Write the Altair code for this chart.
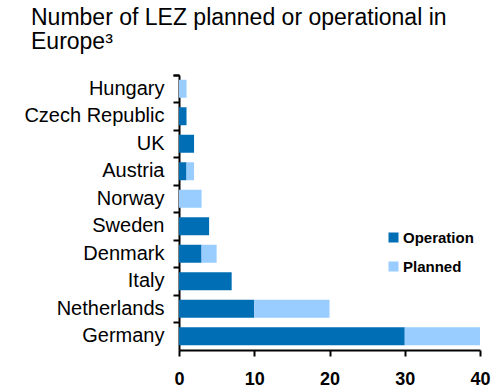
import altair as alt
import pandas as pd

countries = ["Hungary", "Czech Republic", "UK", "Austria", "Norway",
             "Sweden", "Denmark", "Italy", "Netherlands", "Germany"]
operation = [0, 1, 2, 1, 0, 4, 3, 7, 10, 30]
planned = [1, 0, 0, 1, 3, 0, 2, 0, 10, 10]
statuses = ["Operation", "Planned"]
colors = ["#006EB4", "#99CCFF"]
x_ticks = [0, 10, 20, 30, 40]

rows = []
for c, o, p in zip(countries, operation, planned):
    rows.append({"country": c, "status": "Operation", "value": o, "rank": 0})
    rows.append({"country": c, "status": "Planned", "value": p, "rank": 1})
df = pd.DataFrame(rows)

FONT = "Liberation Sans"

chart = (
    alt.Chart(df)
    .mark_bar(size=18)
    .encode(
        y=alt.Y(
            "country:N",
            sort=countries,
            scale=alt.Scale(paddingInner=0, paddingOuter=0),
            axis=alt.Axis(
                title=None,
                ticks=True,
                bandPosition=0,
                tickExtra=True,
                labelFont=FONT,
                labelFontSize=20,
                labelColor="#000000",
                labelPadding=9,
                tickSize=6,
                tickWidth=2,
                tickColor="#000000",
                domainColor="#000000",
                domainWidth=2,
            ),
        ),
        x=alt.X(
            "value:Q",
            stack="zero",
            scale=alt.Scale(domain=[0, 40], nice=False),
            axis=alt.Axis(
                title=None,
                values=x_ticks,
                grid=False,
                labelFlush=False,
                labelFont=FONT,
                labelFontSize=18,
                labelFontWeight="bold",
                labelColor="#000000",
                labelPadding=14,
                tickSize=6,
                tickWidth=2,
                tickColor="#000000",
                domainColor="#000000",
                domainWidth=2,
            ),
        ),
        color=alt.Color(
            "status:N",
            scale=alt.Scale(domain=statuses, range=colors),
            legend=alt.Legend(
                title=None,
                orient="none",
                legendX=207,
                legendY=155,
                symbolType="square",
                symbolSize=100,
                symbolStrokeWidth=0,
                labelFont=FONT,
                labelFontSize=15,
                labelFontWeight="bold",
                labelColor="#000000",
                labelOffset=2,
                rowPadding=13,
            ),
        ),
        order=alt.Order("rank:Q"),
    )
    .properties(
        width=301,
        height=275,
        autosize=alt.AutoSizeParams(type="none"),
        padding={"left": 179, "top": 75, "right": 20, "bottom": 38},
        title=alt.TitleParams(
            text=["Number of LEZ planned or operational in", "Europe³"],
            anchor="start",
            frame="group",
            dx=-148,
            offset=11,
            font=FONT,
            fontSize=23,
            fontWeight="normal",
            lineHeight=24,
            color="#000000",
        ),
    )
    .configure_view(stroke=None)
)

chart.save("out.html", embed_options={"renderer": "svg", "actions": False})
